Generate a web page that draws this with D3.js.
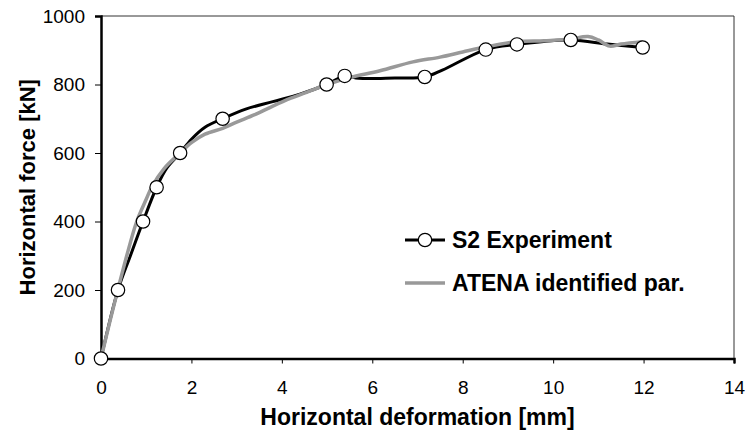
<!DOCTYPE html>
<html>
<head>
<meta charset="utf-8">
<script src="https://cdn.jsdelivr.net/npm/d3@7"></script>
<style>
  body { margin: 0; background: #fff; }
  svg { display: block; font-family: "Liberation Sans", Arial, sans-serif; }
</style>
</head>
<body>
<svg id="chart" width="746" height="433"></svg>
<script>
// S2 Experiment: measured curve and the marked test points
const expX = [0, 0.376, 0.65, 0.93, 1.23, 1.45, 1.75, 2.0, 2.3, 2.69, 3.2, 3.8, 4.4, 4.99, 5.39, 5.7, 6.5, 7.16, 7.55, 8.51, 9.2, 10.39, 11.2, 11.98];
const expY = [0, 200, 300, 400, 500, 555, 600, 640, 675, 700, 728, 750, 772, 800, 825, 818, 819, 822, 842, 902, 917, 930, 918, 908];
const markX = [0, 0.376, 0.93, 1.23, 1.75, 2.69, 4.99, 5.39, 7.16, 8.51, 9.2, 10.39, 11.98];
const markY = [0, 200, 400, 500, 600, 700, 800, 825, 822, 902, 917, 930, 908];

// ATENA identified parameters
const atenaX = [0, 0.2, 0.4, 0.6, 0.79, 1.0, 1.12, 1.4, 1.75, 2.0, 2.3, 2.69, 3.0, 3.4, 3.8, 4.2, 4.6, 5.0, 5.5, 6.17, 6.9, 7.5, 8.0, 8.52, 9.19, 9.8, 10.36, 10.77, 11.0, 11.25, 11.5, 11.98];
const atenaY = [0, 110, 215, 315, 400, 465, 500, 555, 600, 630, 655, 672, 690, 712, 737, 760, 780, 800, 820, 840, 866, 880, 895, 910, 925, 928, 932, 940, 930, 912, 918, 925];

const xTicks = [0, 2, 4, 6, 8, 10, 12, 14];
const yTicks = [0, 200, 400, 600, 800, 1000];

const svg = d3.select('#chart');
const margin = {top: 16, right: 12, bottom: 74.5, left: 101};
const width = 746, height = 433;

const x = d3.scaleLinear().domain([0, 14]).range([margin.left, width - margin.right]);
const y = d3.scaleLinear().domain([0, 1000]).range([height - margin.bottom, margin.top]);

// thin frame on top and right
svg.append('path')
  .attr('d', `M${x(0)},${y(1000)}H${x(14)}V${y(0)}`)
  .attr('fill', 'none')
  .attr('stroke', '#333')
  .attr('stroke-width', 1);

const xAxis = svg.append('g')
  .attr('transform', `translate(0,${y(0)})`)
  .call(d3.axisBottom(x).tickValues(xTicks).tickFormat(d3.format('d')).tickSize(5));
xAxis.select('.domain').attr('stroke-width', 2.5);
xAxis.selectAll('.tick line').attr('stroke-width', 1);
xAxis.selectAll('.tick text').attr('font-size', 19).attr('font-family', null).attr('dy', null).attr('y', 35);

const yAxis = svg.append('g')
  .attr('transform', `translate(${x(0)},0)`)
  .call(d3.axisLeft(y).tickValues(yTicks).tickFormat(d3.format('d')).tickSize(6).tickPadding(10));
yAxis.select('.domain').attr('stroke-width', 2.5);
yAxis.selectAll('.tick line').attr('stroke-width', 1);
yAxis.selectAll('.tick text').attr('font-size', 19).attr('font-family', null);

const expData = expX.map((d, i) => [d, expY[i]]);
const atenaData = atenaX.map((d, i) => [d, atenaY[i]]);
const markData = markX.map((d, i) => [d, markY[i]]);

const line = d3.line()
  .x(d => x(d[0]))
  .y(d => y(d[1]))
  .curve(d3.curveCatmullRom.alpha(0.5));

svg.append('path')
  .datum(expData)
  .attr('fill', 'none')
  .attr('stroke', '#000')
  .attr('stroke-width', 3)
  .attr('stroke-linejoin', 'round')
  .attr('d', line);

svg.append('path')
  .datum(atenaData)
  .attr('fill', 'none')
  .attr('stroke', '#999')
  .attr('stroke-width', 3.5)
  .attr('stroke-linejoin', 'round')
  .attr('d', line);

svg.append('g')
  .selectAll('circle')
  .data(markData)
  .join('circle')
  .attr('cx', d => x(d[0]))
  .attr('cy', d => y(d[1]))
  .attr('r', 6.7)
  .attr('fill', '#fff')
  .attr('stroke', '#000')
  .attr('stroke-width', 1.2);

// axis titles
svg.append('text')
  .attr('x', (x(0) + x(14)) / 2)
  .attr('y', 425)
  .attr('text-anchor', 'middle')
  .attr('font-size', 23)
  .attr('font-weight', 'bold')
  .text('Horizontal deformation [mm]');

svg.append('text')
  .attr('transform', `translate(35,${(y(0) + y(1000)) / 2}) rotate(-90)`)
  .attr('text-anchor', 'middle')
  .attr('font-size', 22)
  .attr('font-weight', 'bold')
  .text('Horizontal force [kN]');

// legend
const legend = svg.append('g').attr('transform', 'translate(405,240)');
legend.append('line')
  .attr('x1', 0).attr('x2', 40).attr('y1', 0).attr('y2', 0)
  .attr('stroke', '#000').attr('stroke-width', 3);
legend.append('circle')
  .attr('cx', 20).attr('cy', 0).attr('r', 6.7)
  .attr('fill', '#fff').attr('stroke', '#000').attr('stroke-width', 1.2);
legend.append('text')
  .attr('x', 47).attr('y', 7.5)
  .attr('font-size', 23).attr('font-weight', 'bold')
  .text('S2 Experiment');
legend.append('line')
  .attr('x1', 0).attr('x2', 40).attr('y1', 43).attr('y2', 43)
  .attr('stroke', '#999').attr('stroke-width', 3.5);
legend.append('text')
  .attr('x', 47).attr('y', 51)
  .attr('font-size', 23).attr('font-weight', 'bold')
  .text('ATENA identified par.');
</script>
</body>
</html>
